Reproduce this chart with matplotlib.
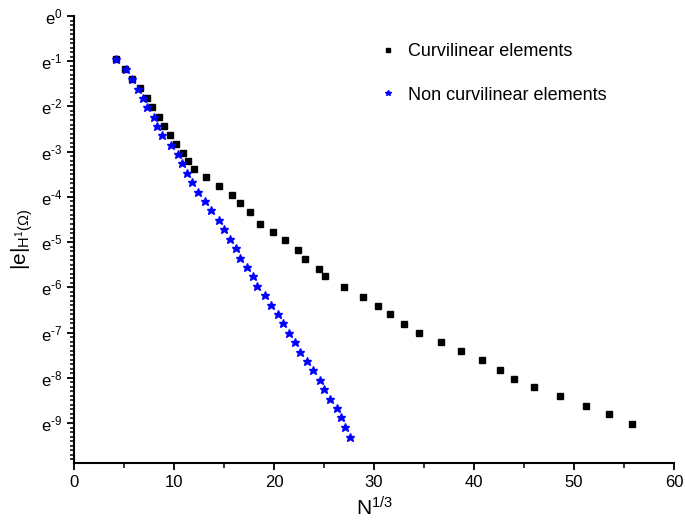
"""
    Erro |e|_{H^1} em função de N^{1/3}: elementos curvilíneos vs não curvilíneos
"""
import matplotlib
matplotlib.use('Agg')
import matplotlib.pyplot as plt
import numpy as np
from matplotlib.ticker import MultipleLocator, FuncFormatter

plt.rcParams['font.family'] = ['Liberation Sans', 'DejaVu Sans']
plt.rcParams['mathtext.default'] = 'regular'

# Dados (eixo y em ln do erro)
x_curv = [4.20, 5.07, 5.80, 6.60, 7.33, 7.80, 8.50, 8.97, 9.60, 10.23,
          10.90, 11.40, 11.97, 13.20, 14.50, 15.80, 16.60, 17.57, 18.57, 19.90,
          21.10, 22.40, 23.10, 24.50, 25.10, 27.00, 28.87, 30.40, 31.60, 33.00,
          34.50, 36.67, 38.70, 40.80, 42.60, 44.00, 46.00, 48.60, 51.20, 53.47,
          55.80]
ln_err_curv = [-0.958, -1.172, -1.387, -1.592, -1.807, -2.012, -2.227, -2.426, -2.625, -2.824,
               -3.023, -3.200, -3.384, -3.561, -3.759, -3.952, -4.135, -4.334, -4.600, -4.770,
               -4.954, -5.175, -5.374, -5.588, -5.743, -5.993, -6.207, -6.413, -6.590, -6.804,
               -7.003, -7.202, -7.408, -7.607, -7.821, -8.027, -8.204, -8.403, -8.624, -8.801,
               -9.023]

x_noncurv = [4.20, 5.17, 5.80, 6.43, 6.87, 7.27, 7.97, 8.27, 8.83, 9.70,
             10.40, 10.83, 11.30, 11.77, 12.40, 13.05, 13.73, 14.45, 15.03, 15.57,
             16.20, 16.57, 17.27, 17.85, 18.33, 19.07, 19.68, 20.38, 20.87, 21.53,
             22.10, 22.57, 23.30, 23.93, 24.55, 24.98, 25.55, 26.27, 26.73, 27.13,
             27.60]
ln_err_noncurv = [-0.958, -1.179, -1.393, -1.608, -1.813, -2.019, -2.227, -2.433, -2.638, -2.846,
                  -3.058, -3.257, -3.465, -3.678, -3.885, -4.091, -4.297, -4.505, -4.717, -4.931,
                  -5.137, -5.345, -5.551, -5.756, -5.964, -6.170, -6.380, -6.590, -6.796, -7.003,
                  -7.216, -7.424, -7.629, -7.835, -8.056, -8.255, -8.463, -8.669, -8.874, -9.089,
                  -9.303]

fig = plt.figure(figsize=(6.85, 5.25), dpi=100)
ax = fig.add_axes([74/685, 1 - 463/525, 600/685, 447/525])

ax.plot(x_curv, ln_err_curv, 's', color='black', markersize=4.6, linestyle='none',
        label='Curvilinear elements')
ax.plot(x_noncurv, ln_err_noncurv, '*', color='blue', markersize=6.3, linestyle='none',
        label='Non curvilinear elements')

ax.set_xlim(0, 60)
ax.set_ylim(-9.885, 0)
ax.xaxis.set_major_locator(MultipleLocator(10))
ax.xaxis.set_minor_locator(MultipleLocator(5))
ax.yaxis.set_major_locator(MultipleLocator(1))
ax.yaxis.set_minor_locator(MultipleLocator(0.1))
# expoente com hífen, como no original
ax.yaxis.set_major_formatter(FuncFormatter(
    lambda v, p: r'$e^{%s}$' % ('%d' % round(v)).replace('-', '\u2010')))

for s in ['top', 'right']:
    ax.spines[s].set_visible(False)
for s in ['left', 'bottom']:
    ax.spines[s].set_linewidth(1.5)
ax.tick_params(which='major', direction='out', length=5, width=1.3, labelsize=12)
ax.tick_params(which='minor', direction='out', length=3, width=1.1)
ax.tick_params(axis='x', which='minor', length=3.5)

ax.set_xlabel(r'$N^{1/3}$', fontsize=15, labelpad=5)
ax.set_ylabel(r'$|e|_{H^1(\Omega)}$', fontsize=15, labelpad=4)

leg = ax.legend(loc='upper left', bbox_to_anchor=(0.482, 0.975), frameon=False,
                fontsize=13, labelspacing=1.45, handletextpad=0.6, markerscale=0.7,
                handlelength=1.0)

fig.savefig('out.png', dpi=100)
